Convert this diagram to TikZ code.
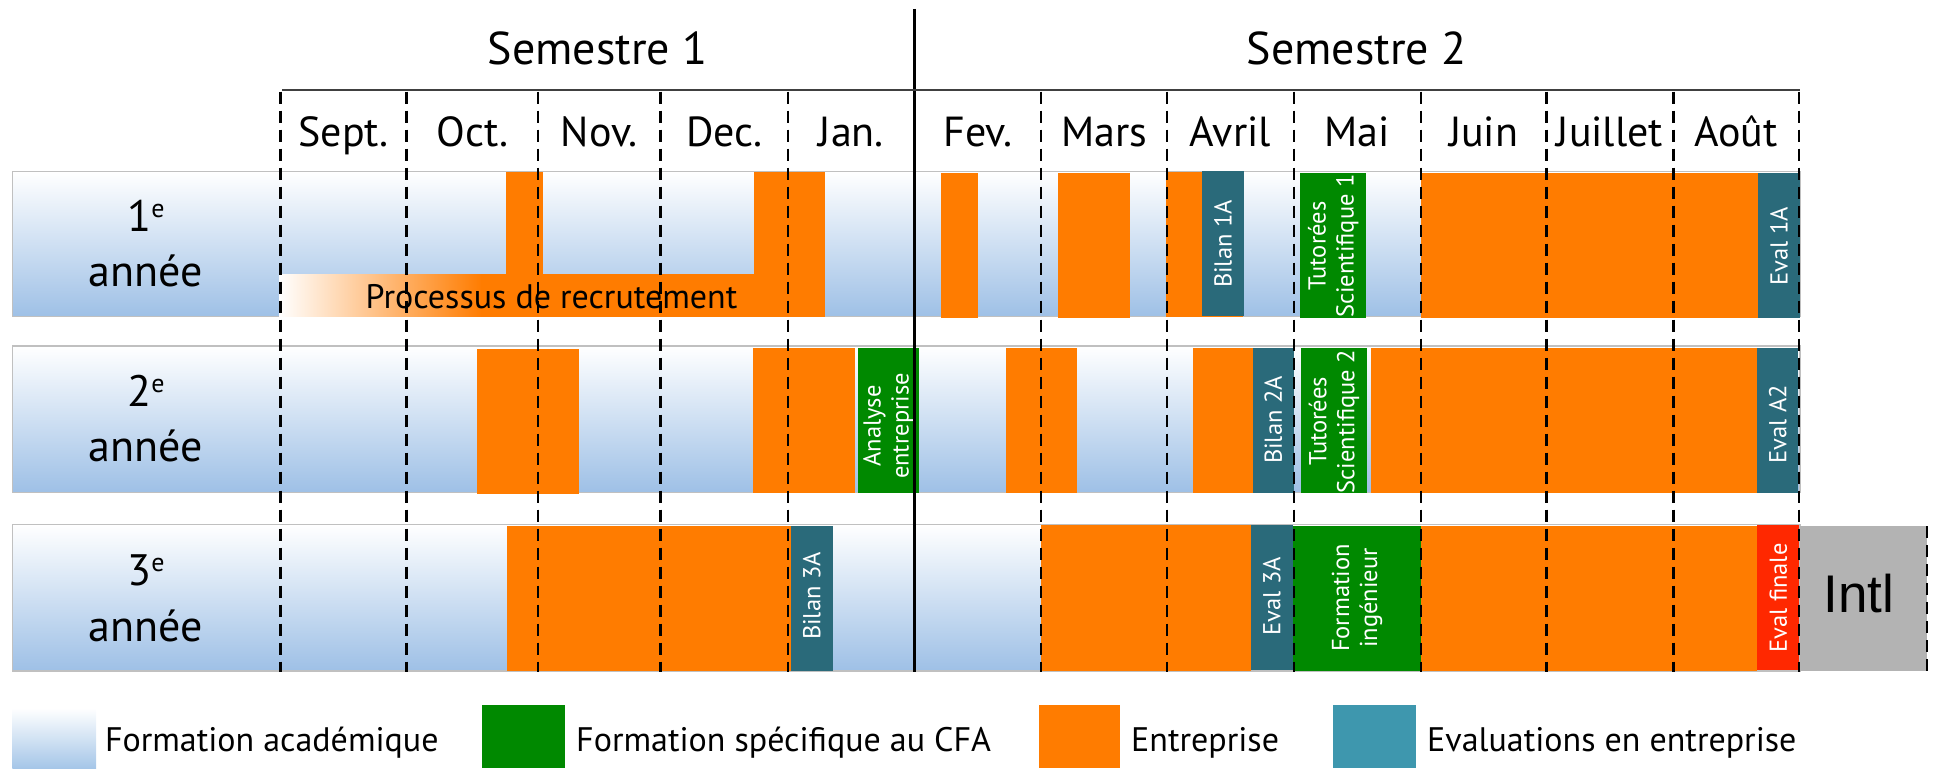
\documentclass[tikz,border=0pt]{standalone}
\usepackage{fontspec}
\setmainfont{PT Sans}
\newfontfamily\arialf{Liberation Sans}
\newcommand\fsz[1]{\fontsize{#1}{#1}\selectfont}
\definecolor{orng}{RGB}{255,124,0}
\definecolor{tealb}{RGB}{42,106,122}
\definecolor{grn}{RGB}{0,137,0}
\definecolor{redb}{RGB}{255,40,0}
\definecolor{grayb}{RGB}{179,179,179}
\definecolor{tealL}{RGB}{62,151,174}
\definecolor{blueB}{RGB}{158,192,230}
\definecolor{blueM}{RGB}{212,225,243}
\definecolor{rowline}{RGB}{192,192,192}
\definecolor{hdr}{RGB}{64,64,64}
\newcommand\blk[5]{\fill[#1] (#2,#3) rectangle (#4,#5);}
\newcommand\rowbg[2]{\shade[top color=white, middle color=blueM, bottom color=blueB] (12.3,#1) rectangle (1800,#2);
  \draw[rowline, line width=1.5pt] (12.3,#1) rectangle (1800,#2);}
\tikzset{
  mon/.style={anchor=base, inner sep=0, font=\fsz{42}},
  sem/.style={anchor=base, inner sep=0, font=\fsz{46}},
  yr/.style={anchor=base, inner sep=0, font=\fsz{44}},
  vlab/.style={rotate=90, text=white, inner sep=0, align=center, font=\fontsize{24.5}{28}\selectfont},
  dline/.style={line width=2.4pt, dash pattern=on 12pt off 7pt},
  leg/.style={anchor=base west, inner sep=0, font=\fsz{34}},
}
\begin{document}
\begin{tikzpicture}[x=1pt,y=-1pt]
\useasboundingbox (0,0) rectangle (1934,768);
% rows
\rowbg{171.7}{316.7}
\rowbg{346}{492.3}
\rowbg{524.3}{671}
% ---------- row 1
\shade[left color=white, right color=orng] (279,274) rectangle (482,316.7);
\blk{orng}{481}{274}{825.2}{316.7}
\blk{orng}{505.7}{171.7}{542.7}{274.5}
\blk{orng}{753.6}{171.7}{825.2}{316.7}
\node[anchor=base, inner sep=0, font=\fsz{34}] (recr) at (551.5,308) {Processus de recrutement};
\blk{orng}{941}{173}{978}{317.5}
\blk{orng}{1058.3}{173}{1130.2}{317.5}
\blk{orng}{1165.8}{171.7}{1243}{316.7}
\blk{tealb}{1202}{171}{1244.2}{316}
\node[vlab] (b1a) at (1223.1,244) {Bilan 1A};
\blk{grn}{1300.3}{173}{1366.2}{317.5}
\node[vlab] (ts1) at (1333.3,246) {Tutorées\\Scientifique 1};
\blk{orng}{1421}{173}{1758}{317.5}
\blk{tealb}{1758}{173}{1800}{317.5}
\node[vlab] (e1a) at (1779,246) {Eval 1A};
% ---------- row 2
\blk{orng}{476.7}{349}{579.1}{493.7}
\blk{orng}{753}{348}{854.8}{492.7}
\blk{grn}{857.9}{348}{918.9}{492.7}
\node[vlab] (ana) at (888.4,426) {Analyse\\entreprise};
\blk{orng}{1005.5}{348}{1076.7}{492.7}
\blk{orng}{1192.8}{348}{1252.8}{492.7}
\blk{tealb}{1252.8}{348}{1293.7}{492.7}
\node[vlab] (b2a) at (1273.2,420) {Bilan 2A};
\blk{grn}{1301}{348}{1366.9}{492.7}
\node[vlab] (ts2) at (1334,421.5) {Tutorées\\Scientifique 2};
\blk{orng}{1370.9}{348}{1757.3}{492.7}
\blk{tealb}{1757.3}{348}{1798.2}{492.7}
\node[vlab] (ea2) at (1777.7,424) {Eval A2};
% ---------- row 3
\blk{orng}{507}{526}{791.2}{671}
\blk{tealb}{791.2}{526}{832.6}{671}
\node[vlab] (b3a) at (811.9,596) {Bilan 3A};
\blk{orng}{1041.1}{525}{1250.8}{671}
\blk{tealb}{1250.8}{525}{1293}{670}
\node[vlab] (e3a) at (1271.9,596) {Eval 3A};
\blk{grn}{1293}{526}{1421}{671}
\node[vlab] (fing) at (1357,598) {Formation\\ingénieur};
\blk{orng}{1421}{526}{1757.3}{671}
\blk{redb}{1757.3}{525}{1799.3}{670}
\node[vlab] (efin) at (1778.3,598) {Eval finale};
\blk{grayb}{1800}{526}{1926.8}{671}
\node[anchor=base, inner sep=0, font=\arialf\fsz{53}] (intl) at (1859,612.7) {Intl};
% ---------- grid lines
\foreach \bx in {280.6,406.4,538,660.5,788.2,1041.1,1167.1,1293.7,1421,1546.3,1673.5,1798.8}
  \draw[dline] (\bx,91.7) -- (\bx,672);
\draw[dline] (1926.8,526) -- (1926.8,672);
\draw[line width=3pt] (914.6,9) -- (914.6,672);
\draw[hdr, line width=2.2pt] (282,90) -- (1800,90);
% ---------- headers
\node[sem] (s1) at (597.6,65) {Semestre 1};
\node[sem] (s2) at (1356.7,65) {Semestre 2};
\node[mon] (m1) at (343.5,146) {Sept.};
\node[mon] (m2) at (472.2,146) {Oct.};
\node[mon] (m3) at (599.2,146) {Nov.};
\node[mon] (m4) at (724.3,146) {Dec.};
\node[mon] (m5) at (851.4,146) {Jan.};
\node[mon] (m6) at (977.9,146) {Fev.};
\node[mon] (m7) at (1104.1,146) {Mars};
\node[mon] (m8) at (1230.4,146) {Avril};
\node[mon] (m9) at (1357.3,146) {Mai};
\node[mon] (m10) at (1483.6,146) {Juin};
\node[mon] (m11) at (1609.9,146) {Juillet};
\node[mon] (m12) at (1736.1,146) {Août};
% ---------- year labels
\node[yr] (y1a) at (146,231.7) {1\raisebox{14pt}{\fsz{26}e}};
\node[yr] (y1b) at (146,286.7) {année};
\node[yr] (y2a) at (146,406.3) {2\raisebox{14pt}{\fsz{26}e}};
\node[yr] (y2b) at (146,461.5) {année};
\node[yr] (y3a) at (146,585) {3\raisebox{14pt}{\fsz{26}e}};
\node[yr] (y3b) at (146,641.5) {année};
% ---------- legend
\shade[top color=white, bottom color={rgb,255:red,165;green,198;blue,232}] (12.3,708.3) rectangle (96.2,768);
\node[leg] (l1) at (104.8,751) {Formation académique};
\fill[grn] (482.2,705) rectangle (564.9,768);
\node[leg] (l2) at (576,751) {Formation spécifique au CFA};
\fill[orng] (1038.5,705) rectangle (1119.9,768);
\node[leg] (l3) at (1131,751) {Entreprise};
\fill[tealL] (1333.2,705) rectangle (1415.9,768);
\node[leg] (l4) at (1427,751) {Evaluations en entreprise};
\end{tikzpicture}
\end{document}
